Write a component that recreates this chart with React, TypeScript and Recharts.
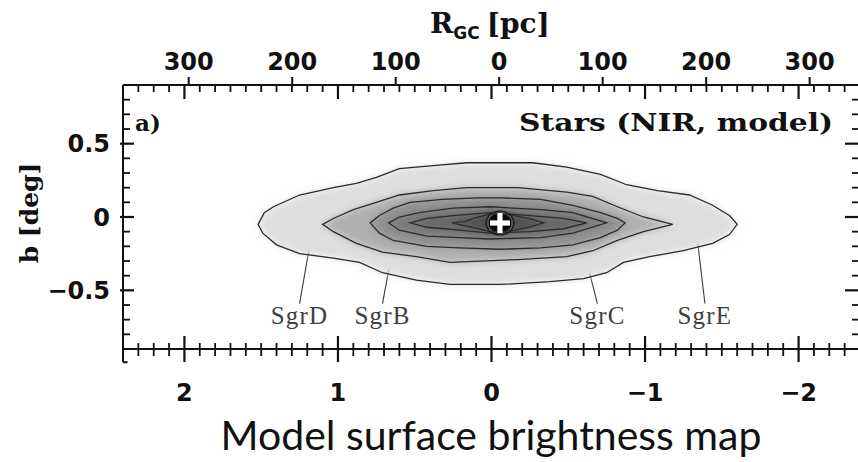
import React from "react";
import { ComposedChart, Scatter, XAxis, YAxis, ReferenceLine, ReferenceDot, Curve } from "recharts";

// galactic longitude / latitude window, degrees
const L_RANGE: [number, number] = [-2.4, 2.4];
const B_RANGE: [number, number] = [-0.9, 0.9];

// R_GC scale along the top: Sgr A* longitude and degrees per 100 pc
const SGR_A_L = -0.05;
const DEG_PER_100PC = 0.674;
const PC_TICKS = [-300, -200, -100, 0, 100, 200, 300];

// surface brightness contours, outermost first, as [l, b] vertices
const LEVEL_1: [number, number][] = [
  [1.52, -0.05], [1.48, 0.03], [1.42, 0.07], [1.25, 0.15], [1.03, 0.2], [0.88, 0.23],
  [0.75, 0.27], [0.6, 0.33], [0.38, 0.35], [0.16, 0.37], [-0.06, 0.37], [-0.27, 0.37],
  [-0.49, 0.34], [-0.71, 0.29], [-0.88, 0.22], [-1.08, 0.18], [-1.29, 0.15], [-1.44, 0.08],
  [-1.55, 0.01], [-1.6, -0.05], [-1.55, -0.12], [-1.44, -0.18], [-1.25, -0.23], [-1.03, -0.27],
  [-0.86, -0.31], [-0.75, -0.38], [-0.6, -0.42], [-0.38, -0.44], [-0.06, -0.46], [0.27, -0.46],
  [0.49, -0.43], [0.71, -0.38], [0.86, -0.31], [1.03, -0.28], [1.25, -0.25], [1.4, -0.19],
  [1.49, -0.11],
];
const LEVEL_2: [number, number][] = [
  [1.1, -0.05], [1.03, -0.01], [0.9, 0.05], [0.75, 0.1], [0.6, 0.15], [0.38, 0.18],
  [0.16, 0.2], [-0.06, 0.2], [-0.17, 0.2], [-0.49, 0.17], [-0.66, 0.14], [-0.82, 0.07],
  [-0.99, 0], [-1.18, -0.05], [-0.99, -0.1], [-0.82, -0.16], [-0.66, -0.23], [-0.49, -0.27],
  [-0.17, -0.29], [0.27, -0.31], [0.49, -0.27], [0.71, -0.24], [0.88, -0.18], [1.03, -0.1],
];
const LEVEL_3: [number, number][] = [
  [0.79, -0.04], [0.73, 0.01], [0.64, 0.06], [0.53, 0.1], [0.32, 0.12], [0.09, 0.13],
  [-0.06, 0.13], [-0.32, 0.12], [-0.53, 0.08], [-0.71, 0.03], [-0.82, -0.01], [-0.87, -0.04],
  [-0.82, -0.09], [-0.71, -0.14], [-0.53, -0.19], [-0.32, -0.21], [-0.06, -0.22], [0.21, -0.21],
  [0.42, -0.2], [0.64, -0.16], [0.73, -0.11],
];
const LEVEL_4: [number, number][] = [
  [0.67, -0.04], [0.6, 0], [0.47, 0.03], [0.25, 0.06], [0.01, 0.07], [-0.32, 0.05],
  [-0.53, 0.03], [-0.75, -0.04], [-0.53, -0.11], [-0.32, -0.14], [0.01, -0.15], [0.21, -0.14],
  [0.42, -0.13], [0.6, -0.09],
];
const LEVEL_5: [number, number][] = [
  [0.53, -0.04], [0.42, -0.01], [0.25, 0.01], [0.01, 0.03], [-0.25, 0.01], [-0.47, -0.01],
  [-0.62, -0.04], [-0.47, -0.08], [-0.25, -0.1], [0.01, -0.11], [0.21, -0.09], [0.42, -0.07],
];
const LEVEL_6: [number, number][] = [
  [0.26, -0.04], [0.17, -0.03], [0.09, 0], [0.01, 0.02], [-0.08, 0.02], [-0.15, 0.01],
  [-0.24, -0.01], [-0.34, -0.04], [-0.24, -0.07], [-0.15, -0.09], [-0.08, -0.1], [0.01, -0.1],
  [0.09, -0.08], [0.17, -0.06],
];
const LEVELS = [LEVEL_1, LEVEL_2, LEVEL_3, LEVEL_4, LEVEL_5, LEVEL_6];
const LEVEL_FILLS = ["#dedede", "#b0b0b0", "#909090", "#7a7a7a", "#666666", "#505050"];

// tight rings round the nucleus
const RING_OUTER: [number, number][] = [
  [0.045, -0.041], [0.016, 0.023], [-0.055, 0.049], [-0.126, 0.023],
  [-0.155, -0.041], [-0.126, -0.105], [-0.055, -0.131], [0.016, -0.105],
];
const RING_CORE: [number, number][] = [
  [0.025, -0.041], [-0.002, 0.012], [-0.055, 0.034], [-0.108, 0.012],
  [-0.135, -0.041], [-0.108, -0.094], [-0.055, -0.116], [-0.002, -0.094],
];
const SGR_A_STAR = [{ l: -0.055, b: -0.041 }];

// named clouds: where the leader points, and where its label sits
const CLOUD_NAMES = ["SgrD", "SgrB", "SgrC", "SgrE"];
const CLOUD_L = [1.16, 0.61, -0.56, -1.33];
const CLOUD_B = [-0.05, -0.03, -0.06, -0.06];
const CLOUD_LABEL_L = [1.25, 0.71, -0.69, -1.39];
const LEADER_END_B = -0.59;
const CLOUD_LABEL_B = -0.73;

const INK = "#111";
const CONTOUR_INK = "#2b2b2b";
const TICK_FONT = "'DejaVu Sans', sans-serif";
const SERIF = "'DejaVu Serif', serif";

const tenths = (lo: number, hi: number) => {
  const out: number[] = [];
  for (let i = Math.round(lo * 10); i <= Math.round(hi * 10); i++) out.push(i / 10);
  return out;
};
const L_TICKS = tenths(L_RANGE[0], L_RANGE[1]);
const B_TICKS = tenths(B_RANGE[0], B_RANGE[1]);
// longitude of each R_GC tick (positive R_GC runs toward negative l)
const pcToL = (pc: number) => SGR_A_L - (pc / 100) * DEG_PER_100PC;

const pts = (arr: [number, number][]) => arr.map(([l, b]) => ({ l, b }));
const minus = (v: number) => (v < 0 ? "\u2212" + String(-v) : String(v));
const Hidden = () => <g />;

function BottomTick(p: any) {
  const v = p.payload.value;
  const major = Number.isInteger(v);
  return (
    <g>
      <line x1={p.x} x2={p.x} y1={p.y - (major ? 13 : 6)} y2={p.y + (major ? 13 : 7)} stroke={INK} strokeWidth={major ? 2.2 : 1.8} />
      {major && (
        <text x={p.x} y={p.y + 52} textAnchor="middle" fontFamily={TICK_FONT} fontWeight={600} fontSize={24} fill={INK}>
          {minus(v)}
        </text>
      )}
    </g>
  );
}

function LeftTick(p: any) {
  const v = p.payload.value;
  const major = Number.isInteger(v * 2);
  return (
    <g>
      <line x1={p.x - (major ? 3 : 0)} x2={p.x + (major ? 11 : 7)} y1={p.y} y2={p.y} stroke={INK} strokeWidth={major ? 2.2 : 1.8} />
      {major && (
        <text x={p.x - 13} y={p.y} dy="0.36em" textAnchor="end" fontFamily={TICK_FONT} fontWeight={600} fontSize={24} fill={INK}>
          {minus(v)}
        </text>
      )}
    </g>
  );
}

function RightTick(p: any) {
  const major = Number.isInteger(p.payload.value * 2);
  return <line x1={p.x} x2={p.x - (major ? 15 : 8)} y1={p.y} y2={p.y} stroke={INK} strokeWidth={major ? 2.2 : 1.8} />;
}

// inward degree ticks hanging from the top frame
function TopDegTick(p: any) {
  const major = Number.isInteger(p.payload.l);
  return (
    <path d={`M${p.cx},${p.cy}V${p.cy + (major ? 14 : 7)}`} stroke={INK} strokeWidth={major ? 2.2 : 1.8} fill="none" />
  );
}

// outward R_GC ticks with their labels
const pcTick = (pc: number) => (p: any) => (
  <g>
    <path d={`M${p.cx},${p.cy}V${p.cy - 8}`} stroke={INK} strokeWidth={2} fill="none" />
    <text x={p.cx} y={p.cy - 15} textAnchor="middle" fontFamily={TICK_FONT} fontWeight={600} fontSize={24} fill={INK}>
      {Math.abs(pc)}
    </text>
  </g>
);

function CloudLabel(p: any) {
  return (
    <text x={p.cx} y={p.cy} textAnchor="middle" fontFamily="'Liberation Serif', serif" fontSize={25} fill="#404040" letterSpacing={1.2}>
      {p.payload.name}
    </text>
  );
}

function Nucleus(p: any) {
  return (
    <g fill="#fff">
      <rect x={p.cx - 10} y={p.cy - 2.6} width={20} height={5.2} />
      <rect x={p.cx - 2.6} y={p.cy - 10} width={5.2} height={20} />
    </g>
  );
}

const cloudLabels = CLOUD_NAMES.map((name, i) => ({ name, l: CLOUD_LABEL_L[i], b: CLOUD_LABEL_B }));
const topTicks = L_TICKS.map((l) => ({ l, b: B_RANGE[1] }));

export default function App() {
  return (
    <div style={{ position: "absolute", left: 0, top: 0, width: 858, height: 462, overflow: "hidden", background: "#fff" }}>
      <ComposedChart width={862} height={462} margin={{ top: 85, right: 0, bottom: 0, left: 0 }}>
        <defs>
          <filter id="soft" x="-20%" y="-60%" width="140%" height="220%">
            <feGaussianBlur stdDeviation="3.5" />
          </filter>
        </defs>
        <XAxis xAxisId="l" type="number" dataKey="l" orientation="bottom" domain={L_RANGE} reversed allowDataOverflow
          ticks={L_TICKS} interval={0} height={113} tickSize={0} tickMargin={0} tickLine={false}
          axisLine={{ stroke: INK, strokeWidth: 2 }} tick={(p: any) => <BottomTick {...p} />} />
        <YAxis yAxisId="b" type="number" dataKey="b" domain={B_RANGE} allowDataOverflow
          ticks={B_TICKS} interval={0} width={123} tickSize={0} tickMargin={0} tickLine={false}
          axisLine={{ stroke: INK, strokeWidth: 2 }} tick={(p: any) => <LeftTick {...p} />} />
        <YAxis yAxisId="bRight" type="number" orientation="right" domain={B_RANGE} allowDataOverflow
          ticks={B_TICKS} interval={0} width={2} tickSize={0} tickMargin={0} tickLine={false}
          axisLine={{ stroke: INK, strokeWidth: 2 }} tick={(p: any) => <RightTick {...p} />} />

        {LEVELS.map((lev, i) => (
          <Scatter key={`fill${i}`} xAxisId="l" yAxisId="b" data={pts(lev)} isAnimationActive={false}
            shape={Hidden} lineType="joint"
            line={(lp: any) => (
              <g filter="url(#soft)">
                <Curve {...lp} type="linearClosed" fill={LEVEL_FILLS[i]} stroke="none" />
              </g>
            )} />
        ))}
        <Scatter xAxisId="l" yAxisId="b" data={pts(RING_CORE)} isAnimationActive={false} shape={Hidden}
          lineType="joint" lineJointType="basisClosed" line={{ fill: "#080808", stroke: "#080808", strokeWidth: 1 }} />
        {LEVELS.map((lev, i) => (
          <Scatter key={`line${i}`} xAxisId="l" yAxisId="b" data={pts(lev)} isAnimationActive={false}
            shape={Hidden} lineType="joint" lineJointType="linearClosed"
            line={{ fill: "none", stroke: CONTOUR_INK, strokeWidth: 1.3 }} />
        ))}
        <Scatter xAxisId="l" yAxisId="b" data={pts(RING_OUTER)} isAnimationActive={false} shape={Hidden}
          lineType="joint" lineJointType="basisClosed" line={{ fill: "none", stroke: "#1a1a1a", strokeWidth: 1.3 }} />
        <Scatter xAxisId="l" yAxisId="b" data={SGR_A_STAR} isAnimationActive={false} shape={Nucleus} />

        {CLOUD_NAMES.map((name, i) => (
          <ReferenceLine key={name} xAxisId="l" yAxisId="b" ifOverflow="visible" stroke="#3c3c3c" strokeWidth={1.1}
            segment={[{ x: CLOUD_L[i], y: CLOUD_B[i] }, { x: CLOUD_LABEL_L[i], y: LEADER_END_B }]} />
        ))}
        <Scatter xAxisId="l" yAxisId="b" data={cloudLabels} isAnimationActive={false} shape={CloudLabel} />

        {/* top frame: degree ticks hang below it, R_GC ticks stand above it */}
        <ReferenceLine xAxisId="l" yAxisId="b" y={B_RANGE[1]} ifOverflow="visible" stroke={INK} strokeWidth={2} />
        <Scatter xAxisId="l" yAxisId="b" data={topTicks} isAnimationActive={false} shape={TopDegTick} />
        {PC_TICKS.map((pc) => (
          <ReferenceDot key={`pc${pc}`} xAxisId="l" yAxisId="b" x={pcToL(pc)} y={B_RANGE[1]} r={0} ifOverflow="visible"
            shape={pcTick(pc)} />
        ))}

        {/* frame feet below the bottom axis */}
        <ReferenceLine xAxisId="l" yAxisId="b" ifOverflow="visible" stroke={INK} strokeWidth={2}
          segment={[{ x: L_RANGE[1], y: B_RANGE[0] }, { x: L_RANGE[1], y: -0.99 }]} />
        <ReferenceLine xAxisId="l" yAxisId="b" ifOverflow="visible" stroke={INK} strokeWidth={2}
          segment={[{ x: L_RANGE[1], y: -0.99 }, { x: 2.37, y: -0.99 }]} />

        <text x={135} y={131} fontFamily={SERIF} fontWeight="bold" fontSize={23} fill={INK}>a)</text>
        <text x={519} y={131} textLength={314} lengthAdjust="spacingAndGlyphs" fontFamily={SERIF} fontWeight="bold" fontSize={24} fill={INK}>
          Stars (NIR, model)
        </text>
        <text x={430} y={33} fontFamily={SERIF} fontWeight="bold" fontSize={28} fill={INK}>
          R<tspan fontFamily={TICK_FONT} fontSize={17} dy={6}>GC</tspan>
          <tspan dy={-6} dx={7}>[pc]</tspan>
        </text>
        <text transform="translate(38,213) rotate(-90)" textAnchor="middle" fontFamily={SERIF} fontWeight="bold" fontSize={25} fill={INK}>
          b [deg]
        </text>
        <text x={491} y={450} textAnchor="middle" fontFamily="Lato, sans-serif" fontSize={41} fill="#111">
          Model surface brightness map
        </text>
      </ComposedChart>
    </div>
  );
}
